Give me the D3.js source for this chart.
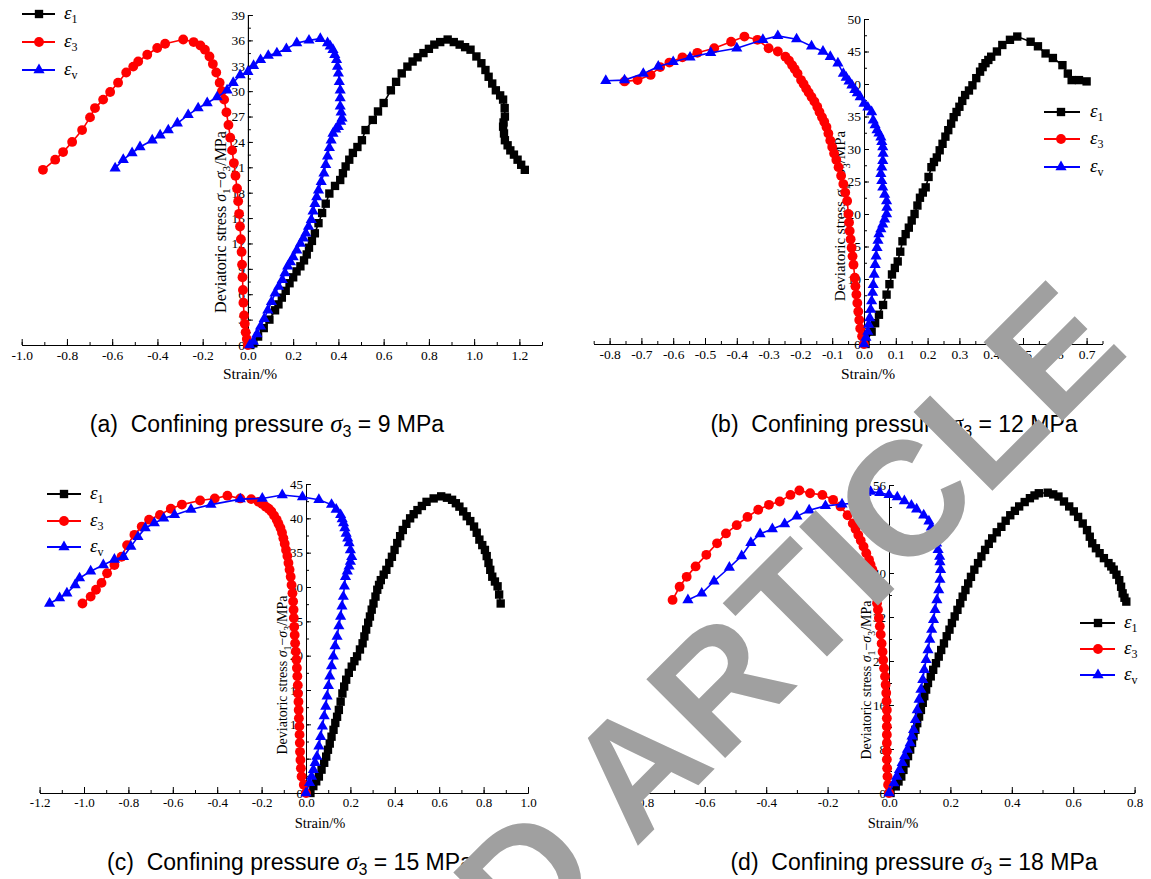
<!DOCTYPE html>
<html>
<head>
<meta charset="utf-8">
<script src="https://cdn.jsdelivr.net/npm/d3@7"></script>
<style>
  body { margin: 0; background: #fff; }
  svg { display: block; }
</style>
</head>
<body>
<script>
var W = 1151, H = 879;

// [strain %, deviatoric stress MPa]
// (a) confining pressure 9 MPa
var a_e1 = [[0.01,0],[0.024,0.2],[0.045,1.0],[0.07,2.0],[0.095,3.0],[0.12,4.1],[0.135,4.8],[0.15,5.6],[0.167,6.4],[0.184,7.3],[0.2,8.0],[0.215,8.7],[0.232,9.3],[0.248,10.0],[0.26,10.7],[0.27,11.5],[0.283,12.3],[0.296,13.2],[0.312,14.4],[0.328,15.6],[0.344,16.7],[0.36,17.9],[0.385,18.8],[0.408,19.5],[0.42,20.3],[0.432,21.1],[0.448,21.9],[0.464,22.7],[0.484,23.4],[0.504,24.2],[0.52,25.4],[0.552,26.6],[0.575,27.6],[0.6,28.6],[0.632,30.1],[0.655,31.1],[0.68,32.1],[0.705,32.9],[0.728,33.5],[0.75,34.0],[0.776,34.5],[0.8,35.0],[0.824,35.5],[0.85,35.8],[0.883,36.1],[0.91,35.8],[0.936,35.5],[0.96,35.2],[0.984,34.9],[1.01,34.1],[1.032,33.3],[1.05,32.5],[1.064,31.7],[1.08,30.9],[1.096,30.1],[1.115,29.5],[1.128,29.0],[1.135,28.0],[1.136,27.0],[1.13,26.3],[1.128,25.8],[1.132,25.0],[1.136,24.2],[1.148,23.6],[1.16,23.0],[1.176,22.5],[1.192,21.9],[1.208,21.3],[1.224,20.7]];
var a_e3 = [[0,0],[-0.005,0.7],[-0.01,1.5],[-0.014,2.5],[-0.017,3.5],[-0.02,5],[-0.022,6.5],[-0.024,8],[-0.026,9.5],[-0.028,11],[-0.031,12.5],[-0.035,14],[-0.039,15.5],[-0.043,17],[-0.048,18.5],[-0.055,20],[-0.062,21.5],[-0.07,23],[-0.078,24.5],[-0.086,26],[-0.095,27.5],[-0.105,29],[-0.115,30],[-0.125,31],[-0.14,32.2],[-0.155,33.2],[-0.17,34.1],[-0.19,34.9],[-0.21,35.4],[-0.24,35.8],[-0.286,36.1],[-0.366,35.6],[-0.401,35.1],[-0.445,34.3],[-0.485,33.5],[-0.507,32.9],[-0.538,32.2],[-0.574,31.0],[-0.609,29.9],[-0.64,29.0],[-0.676,28.0],[-0.698,26.9],[-0.733,25.4],[-0.777,24.0],[-0.817,22.8],[-0.852,21.9],[-0.906,20.7]];
var a_ev = [[0.008,0],[0.024,0.4],[0.04,1.3],[0.056,2.2],[0.072,3.1],[0.088,4.1],[0.104,5.1],[0.12,6.1],[0.136,6.9],[0.152,7.7],[0.164,8.5],[0.176,9.3],[0.188,9.8],[0.2,10.4],[0.216,11.2],[0.232,12.0],[0.245,12.6],[0.256,13.2],[0.268,14.0],[0.28,14.8],[0.288,15.8],[0.296,16.7],[0.304,17.5],[0.312,18.3],[0.324,19.3],[0.336,20.3],[0.344,21.3],[0.352,22.3],[0.36,23.3],[0.368,24.2],[0.376,25.0],[0.388,25.5],[0.4,25.8],[0.41,26.4],[0.416,26.8],[0.412,27.5],[0.408,28.2],[0.408,29.2],[0.408,30.1],[0.404,31.1],[0.4,32.1],[0.396,32.9],[0.392,33.7],[0.384,34.3],[0.376,34.9],[0.364,35.3],[0.352,35.7],[0.32,36.2],[0.27,36.0],[0.216,35.7],[0.17,35.0],[0.128,34.5],[0.09,34.2],[0.056,33.7],[0.025,33.0],[0,32.3],[-0.034,31.9],[-0.065,31.0],[-0.092,30.1],[-0.136,29.3],[-0.18,28.6],[-0.22,28.0],[-0.264,27.2],[-0.312,26.2],[-0.352,25.4],[-0.388,24.8],[-0.423,24.2],[-0.477,23.4],[-0.512,22.7],[-0.551,21.9],[-0.587,20.9]];

// (b) confining pressure 12 MPa
var b_e1 = [[0.005,0],[0.024,1.9],[0.035,3.2],[0.047,4.5],[0.06,6.0],[0.071,7.6],[0.08,9.2],[0.088,10.7],[0.097,11.7],[0.106,12.7],[0.114,14.2],[0.121,15.8],[0.131,16.9],[0.141,17.9],[0.15,19.0],[0.159,20.0],[0.168,21.3],[0.176,22.5],[0.185,23.3],[0.194,24.1],[0.203,25.7],[0.212,27.2],[0.22,28.0],[0.229,28.7],[0.238,29.8],[0.247,30.8],[0.256,31.9],[0.265,32.9],[0.274,33.9],[0.282,34.9],[0.291,35.7],[0.3,36.5],[0.309,37.4],[0.318,38.3],[0.33,39.0],[0.341,39.8],[0.353,40.9],[0.365,41.9],[0.373,42.6],[0.382,43.2],[0.391,43.7],[0.4,44.2],[0.418,45.0],[0.435,46.0],[0.459,46.8],[0.482,47.3],[0.524,46.5],[0.547,45.8],[0.571,44.7],[0.594,44.0],[0.624,42.9],[0.641,41.6],[0.653,40.6],[0.676,40.6],[0.7,40.4]];
var b_e3 = [[0,0],[-0.006,1.2],[-0.012,2.4],[-0.015,3.7],[-0.018,5.0],[-0.021,6.3],[-0.024,7.6],[-0.027,8.9],[-0.029,10.2],[-0.033,12.2],[-0.036,13.5],[-0.039,14.8],[-0.042,16.1],[-0.045,17.4],[-0.047,18.7],[-0.049,20.0],[-0.053,22.0],[-0.059,23.3],[-0.065,24.6],[-0.072,25.9],[-0.08,27.2],[-0.087,28.3],[-0.094,29.3],[-0.1,30.3],[-0.106,31.3],[-0.112,32.4],[-0.118,33.4],[-0.125,34.2],[-0.132,34.9],[-0.14,35.7],[-0.147,36.5],[-0.156,37.3],[-0.165,38.0],[-0.174,38.7],[-0.182,39.3],[-0.19,40.0],[-0.198,40.6],[-0.209,41.6],[-0.218,42.3],[-0.226,42.9],[-0.236,43.6],[-0.247,44.2],[-0.271,45.0],[-0.3,45.5],[-0.335,46.8],[-0.376,47.3],[-0.418,46.5],[-0.471,45.5],[-0.524,44.8],[-0.571,44.1],[-0.612,43.3],[-0.641,42.6],[-0.671,41.4],[-0.712,40.6],[-0.753,40.4]];
var b_ev = [[0,0],[0.006,1.0],[0.012,1.9],[0.015,3.0],[0.018,4.0],[0.021,5.3],[0.024,6.6],[0.027,7.9],[0.029,9.1],[0.032,10.7],[0.035,12.2],[0.038,13.5],[0.041,14.8],[0.044,15.9],[0.047,16.9],[0.053,17.7],[0.059,18.4],[0.065,19.2],[0.071,20.0],[0.072,21.0],[0.071,22.0],[0.065,23.0],[0.059,24.1],[0.056,25.1],[0.053,26.2],[0.056,27.2],[0.059,28.2],[0.06,29.3],[0.059,30.3],[0.056,31.1],[0.053,31.8],[0.047,32.4],[0.041,32.9],[0.035,33.7],[0.029,34.4],[0.024,35.7],[0.012,36.4],[0,37.0],[-0.012,38.0],[-0.021,38.6],[-0.029,39.1],[-0.038,39.8],[-0.047,40.4],[-0.056,41.0],[-0.065,41.6],[-0.082,43.2],[-0.106,44.2],[-0.129,45.0],[-0.165,45.8],[-0.212,46.9],[-0.271,47.4],[-0.318,46.8],[-0.4,45.5],[-0.482,44.8],[-0.547,44.1],[-0.6,43.4],[-0.647,42.7],[-0.694,41.6],[-0.753,40.6],[-0.812,40.5]];

// (c) confining pressure 15 MPa
var c_e1 = [[0.02,0],[0.033,1.0],[0.046,1.7],[0.058,2.4],[0.07,3.4],[0.082,4.4],[0.091,5.3],[0.099,6.3],[0.107,7.2],[0.115,8.2],[0.124,9.2],[0.132,10.2],[0.14,11.1],[0.148,12.1],[0.156,13.3],[0.164,14.5],[0.172,15.5],[0.181,16.5],[0.193,17.5],[0.206,18.4],[0.218,19.2],[0.23,19.9],[0.243,20.9],[0.255,21.8],[0.263,22.8],[0.271,23.8],[0.28,24.8],[0.288,25.7],[0.296,26.7],[0.304,27.6],[0.313,28.6],[0.321,29.6],[0.329,30.3],[0.337,31.0],[0.35,31.8],[0.362,32.5],[0.375,33.5],[0.387,34.4],[0.399,35.4],[0.411,36.4],[0.424,37.4],[0.436,38.3],[0.452,39.2],[0.469,40.0],[0.485,40.6],[0.502,41.2],[0.522,41.8],[0.543,42.4],[0.575,42.9],[0.609,43.2],[0.635,43.0],[0.658,42.7],[0.675,42.2],[0.691,41.7],[0.708,41.0],[0.724,40.3],[0.74,39.6],[0.757,38.8],[0.769,37.9],[0.781,36.9],[0.794,36.1],[0.806,35.4],[0.814,34.5],[0.822,33.5],[0.83,32.5],[0.839,31.5],[0.851,30.8],[0.863,30.1],[0.87,28.9],[0.877,27.6]];
var c_e3 = [[0,0],[-0.01,1.2],[-0.02,2.4],[-0.023,3.6],[-0.025,4.8],[-0.027,6.0],[-0.028,7.3],[-0.029,8.5],[-0.03,9.7],[-0.032,10.9],[-0.033,12.1],[-0.034,13.3],[-0.036,14.5],[-0.037,15.7],[-0.039,17.0],[-0.041,18.2],[-0.043,19.4],[-0.046,20.6],[-0.049,21.8],[-0.051,23.0],[-0.053,24.2],[-0.055,25.5],[-0.056,26.7],[-0.058,27.9],[-0.061,29.1],[-0.065,30.3],[-0.069,31.5],[-0.074,32.5],[-0.079,33.5],[-0.084,34.5],[-0.09,35.4],[-0.096,36.3],[-0.102,37.1],[-0.108,37.9],[-0.115,38.6],[-0.124,39.2],[-0.132,39.8],[-0.144,40.4],[-0.156,41.0],[-0.168,41.4],[-0.181,41.7],[-0.197,42.1],[-0.214,42.4],[-0.247,42.8],[-0.296,42.9],[-0.354,43.3],[-0.411,42.9],[-0.477,42.6],[-0.559,42.0],[-0.609,41.4],[-0.658,40.5],[-0.707,39.8],[-0.74,38.8],[-0.773,37.6],[-0.806,36.1],[-0.831,34.4],[-0.863,33.2],[-0.896,32.0],[-0.921,30.6],[-0.946,29.6],[-0.97,28.6],[-1.007,27.6]];
var c_ev = [[0,0],[0.016,1.5],[0.025,2.4],[0.033,3.4],[0.041,4.4],[0.049,5.3],[0.058,6.8],[0.066,8.2],[0.074,9.7],[0.082,11.2],[0.089,12.6],[0.095,14.1],[0.101,15.6],[0.107,17.0],[0.115,18.5],[0.123,19.9],[0.131,21.4],[0.14,22.8],[0.148,24.3],[0.156,25.7],[0.162,27.2],[0.168,28.6],[0.173,30.1],[0.178,31.5],[0.186,32.3],[0.194,33.0],[0.2,33.7],[0.206,34.4],[0.2,35.4],[0.194,36.4],[0.188,37.1],[0.181,37.8],[0.175,38.6],[0.169,39.3],[0.163,39.9],[0.156,40.5],[0.136,41.3],[0.115,42.0],[0.058,42.7],[-0.016,43.1],[-0.107,43.4],[-0.197,42.9],[-0.296,42.8],[-0.428,42.0],[-0.518,41.3],[-0.592,40.5],[-0.641,40.0],[-0.683,39.3],[-0.724,38.6],[-0.757,37.3],[-0.789,35.9],[-0.822,34.4],[-0.863,34.0],[-0.913,33.2],[-0.97,32.3],[-1.02,31.3],[-1.04,30.3],[-1.077,29.1],[-1.11,28.4],[-1.155,27.6]];

// (d) confining pressure 18 MPa
var d_e1 = [[0.005,0],[0.022,1.2],[0.031,2.1],[0.04,3.0],[0.047,4.2],[0.054,5.4],[0.062,6.7],[0.069,7.9],[0.075,9.1],[0.08,10.3],[0.086,11.5],[0.092,12.7],[0.098,13.9],[0.104,15.1],[0.11,16.4],[0.115,17.6],[0.121,18.8],[0.127,20.0],[0.136,21.2],[0.144,22.4],[0.153,23.6],[0.162,24.8],[0.17,26.0],[0.179,27.2],[0.188,28.5],[0.197,29.7],[0.205,30.9],[0.214,32.1],[0.223,33.3],[0.232,34.5],[0.24,35.7],[0.249,36.9],[0.258,38.1],[0.267,39.3],[0.278,40.6],[0.29,41.8],[0.301,43.0],[0.313,44.2],[0.325,45.3],[0.336,46.3],[0.351,47.4],[0.366,48.4],[0.38,49.5],[0.395,50.5],[0.41,51.3],[0.424,52.1],[0.442,52.9],[0.459,53.6],[0.474,54.1],[0.488,54.5],[0.517,54.6],[0.535,54.3],[0.552,53.9],[0.57,53.0],[0.587,52.1],[0.602,51.2],[0.616,50.2],[0.631,49.0],[0.645,47.8],[0.654,46.6],[0.662,45.4],[0.674,44.5],[0.686,43.6],[0.7,42.7],[0.715,41.8],[0.724,41.2],[0.732,40.6],[0.741,39.7],[0.75,38.7],[0.756,37.5],[0.761,36.3],[0.767,35.5],[0.773,34.8]];
var d_e3 = [[0,0],[-0.003,1.5],[-0.005,3.0],[-0.006,4.5],[-0.007,6.1],[-0.007,7.6],[-0.007,9.1],[-0.007,10.6],[-0.007,12.1],[-0.007,13.6],[-0.007,15.1],[-0.008,16.7],[-0.009,18.2],[-0.011,19.7],[-0.013,21.2],[-0.016,22.7],[-0.019,24.2],[-0.021,25.7],[-0.024,27.2],[-0.027,28.8],[-0.03,30.3],[-0.033,31.8],[-0.036,33.3],[-0.039,34.5],[-0.042,35.7],[-0.045,36.9],[-0.048,38.1],[-0.051,39.4],[-0.054,40.6],[-0.06,41.5],[-0.065,42.4],[-0.074,43.6],[-0.083,44.8],[-0.092,45.9],[-0.1,46.9],[-0.109,48.0],[-0.118,49.0],[-0.135,50.5],[-0.158,52.1],[-0.182,53.3],[-0.217,54.2],[-0.257,54.5],[-0.292,55.0],[-0.321,54.2],[-0.356,53.0],[-0.391,52.4],[-0.426,51.5],[-0.461,50.2],[-0.496,48.7],[-0.531,47.2],[-0.56,45.4],[-0.595,43.3],[-0.63,41.2],[-0.659,39.3],[-0.682,37.5],[-0.705,35.1]];
var d_ev = [[0,0],[0.016,1.8],[0.025,3.0],[0.034,4.2],[0.043,5.5],[0.051,6.7],[0.06,7.9],[0.069,9.1],[0.075,10.3],[0.08,11.5],[0.086,13.3],[0.092,15.1],[0.098,17.0],[0.104,18.8],[0.11,20.6],[0.115,22.4],[0.121,24.2],[0.127,26.0],[0.133,27.9],[0.139,29.7],[0.145,31.5],[0.15,33.3],[0.156,35.1],[0.162,36.9],[0.166,38.8],[0.168,40.6],[0.166,42.0],[0.165,43],[0.16,44.2],[0.155,45.4],[0.15,46.3],[0.145,47.2],[0.138,48.3],[0.13,49.4],[0.113,50.5],[0.09,51.6],[0.073,52.3],[0.05,53.1],[0.027,53.8],[0,54.2],[-0.03,54.6],[-0.06,54.8],[-0.075,54.6],[-0.09,53],[-0.113,52.7],[-0.153,52.5],[-0.207,52.2],[-0.26,51.4],[-0.3,50.3],[-0.34,48.9],[-0.38,48.0],[-0.42,47.1],[-0.45,45.5],[-0.48,43.1],[-0.52,41.0],[-0.57,38.5],[-0.61,36.3],[-0.655,35.1]];

// tick labels
var a_xticks = [-1.0,-0.8,-0.6,-0.4,-0.2,0,0.2,0.4,0.6,0.8,1.0,1.2];
var a_yticks = [0,3,6,9,12,15,18,21,24,27,30,33,36,39];
var b_xticks = [-0.8,-0.7,-0.6,-0.5,-0.4,-0.3,-0.2,-0.1,0,0.1,0.2,0.3,0.4,0.5,0.6,0.7];
var b_yticks = [0,5,10,15,20,25,30,35,40,45,50];
var c_xticks = [-1.2,-1.0,-0.8,-0.6,-0.4,-0.2,0,0.2,0.4,0.6,0.8,1.0];
var c_yticks = [0,5,10,15,20,25,30,35,40,45];
var d_xticks = [-0.8,-0.6,-0.4,-0.2,0,0.2,0.4,0.6,0.8];
var d_yticks = [0,8,16,24,32,40,48,56];

var seriesSubs = ["1", "3", "v"];
var panelLetters = ["(a)", "(b)", "(c)", "(d)"];
var pressures = ["9", "12", "15", "18"];

var colors = ["#000000", "#ff0000", "#0000ff"];
var shapes = [d3.symbolSquare, d3.symbolCircle, d3.symbolTriangle];
var symSizes = [70, 76, 54];

var panels = [
  {series: [a_e1, a_e3, a_ev], xdom: [-1.0, 1.3], xr: [21.7, 542], ydom: [0, 39], yr: [345, 15],
   xt: a_xticks, xstep: 0.1, yt: a_yticks, ystep: 1.5, tickFs: 13.5,
   ytitle: [220, 222, 16], xtitle: [250, 379, 15.5],
   legend: {x1: 22, x2: 55, xm: 39, xt: 64, ys: [14, 42, 70]},
   caption: [267, 432]},
  {series: [b_e1, b_e3, b_ev], xdom: [-0.85, 0.75], xr: [593.7, 1102.5], ydom: [0, 50], yr: [344, 19],
   xt: b_xticks, xstep: 0.05, yt: b_yticks, ystep: 2.5, tickFs: 13.5,
   ytitle: [840, 216, 15], xtitle: [868, 379, 15.5],
   legend: {x1: 1044, x2: 1080, xm: 1061, xt: 1090, ys: [112, 139, 167]},
   caption: [894, 432]},
  {series: [c_e1, c_e3, c_ev], xdom: [-1.2, 1.0], xr: [39.6, 528], ydom: [0, 45], yr: [793, 484],
   xt: c_xticks, xstep: 0.1, yt: c_yticks, ystep: 2.5, tickFs: 13,
   ytitle: [282, 675, 14], xtitle: [320, 828, 14.5],
   legend: {x1: 47, x2: 81, xm: 64, xt: 90, ys: [494, 521, 547]},
   caption: [290, 870]},
  {series: [d_e1, d_e3, d_ev], xdom: [-0.8, 0.8], xr: [643.4, 1134.6], ydom: [0, 56], yr: [793, 485],
   xt: d_xticks, xstep: 0.1, yt: d_yticks, ystep: 4, tickFs: 13,
   ytitle: [866, 680, 14], xtitle: [893, 828, 14.5],
   legend: {x1: 1080, x2: 1115, xm: 1098, xt: 1124, ys: [623, 649, 675]},
   caption: [914, 870]}
];

var svg = d3.select("body").append("svg")
  .attr("width", W)
  .attr("height", H)
  .style("background", "#fff");

var serif = "Liberation Serif";
var sans = "Liberation Sans";

function styleAxis(g, fs) {
  g.attr("font-family", serif).attr("font-size", fs);
  g.selectAll("path, line").attr("stroke", "#000").attr("stroke-width", 1);
  g.selectAll("text").attr("fill", "#000");
}

function drawPanel(p, pi) {
  var x = d3.scaleLinear().domain(p.xdom).range(p.xr);
  var y = d3.scaleLinear().domain(p.ydom).range(p.yr);
  var g = svg.append("g");
  var x0 = x(0), y0 = y(0);

  var xminor = d3.range(p.xdom[0], p.xdom[1] + 1e-9, p.xstep);
  var yminor = d3.range(p.ydom[0], p.ydom[1] + 1e-9, p.ystep);

  // x axis, ticks pointing up into the plot
  g.append("g").attr("transform", "translate(0," + y0 + ")")
    .call(d3.axisBottom(x).tickValues(xminor).tickSize(-3).tickSizeOuter(0).tickFormat(""))
    .call(styleAxis, p.tickFs);
  g.append("g").attr("transform", "translate(0," + y0 + ")")
    .call(d3.axisBottom(x).tickValues(p.xt).tickSize(-6).tickSizeOuter(0).tickPadding(5)
      .tickFormat(function(d) { return d.toFixed(1); }))
    .call(styleAxis, p.tickFs);

  // y axis sits at strain = 0
  g.append("g").attr("transform", "translate(" + x0 + ",0)")
    .call(d3.axisLeft(y).tickValues(yminor).tickSize(-3).tickSizeOuter(0).tickFormat(""))
    .call(styleAxis, p.tickFs);
  g.append("g").attr("transform", "translate(" + x0 + ",0)")
    .call(d3.axisLeft(y).tickValues(p.yt).tickSize(-5).tickSizeOuter(0).tickPadding(3))
    .call(styleAxis, p.tickFs);

  g.append("text")
    .attr("x", p.xtitle[0]).attr("y", p.xtitle[1])
    .attr("text-anchor", "middle")
    .attr("font-family", serif).attr("font-size", p.xtitle[2])
    .text("Strain/%");

  var fs = p.ytitle[2];
  var yt = g.append("text")
    .attr("transform", "translate(" + p.ytitle[0] + "," + p.ytitle[1] + ") rotate(-90)")
    .attr("text-anchor", "middle")
    .attr("dy", "0.35em")
    .attr("font-family", serif).attr("font-size", fs);
  yt.append("tspan").text("Deviatoric stress ");
  yt.append("tspan").attr("font-style", "italic").text("σ");
  yt.append("tspan").attr("font-size", fs * 0.7).attr("dy", fs * 0.3).text("1");
  yt.append("tspan").attr("dy", -fs * 0.3).text("−");
  yt.append("tspan").attr("font-style", "italic").text("σ");
  yt.append("tspan").attr("font-size", fs * 0.7).attr("dy", fs * 0.3).text("3");
  yt.append("tspan").attr("dy", -fs * 0.3).text("/MPa");

  // curves: line + markers, ε1 first, εv on top
  var line = d3.line().x(function(d) { return x(d[0]); }).y(function(d) { return y(d[1]); });
  p.series.forEach(function(s, k) {
    g.append("path")
      .attr("d", line(s))
      .attr("fill", "none")
      .attr("stroke", colors[k])
      .attr("stroke-width", 1.6);
    g.append("g").selectAll("path")
      .data(s).enter().append("path")
      .attr("transform", function(d) { return "translate(" + x(d[0]) + "," + y(d[1]) + ")"; })
      .attr("d", d3.symbol().type(shapes[k]).size(symSizes[k]))
      .attr("fill", colors[k]);
  });

  var L = p.legend;
  L.ys.forEach(function(ly, k) {
    g.append("line")
      .attr("x1", L.x1).attr("x2", L.x2).attr("y1", ly).attr("y2", ly)
      .attr("stroke", colors[k]).attr("stroke-width", 1.8);
    g.append("path")
      .attr("transform", "translate(" + L.xm + "," + ly + ")")
      .attr("d", d3.symbol().type(shapes[k]).size(symSizes[k]))
      .attr("fill", colors[k]);
    var t = g.append("text")
      .attr("x", L.xt).attr("y", ly + 5)
      .attr("font-family", serif).attr("font-size", 19);
    t.append("tspan").attr("font-style", "italic").text("ε");
    t.append("tspan").attr("font-size", 12).attr("dy", 4).text(seriesSubs[k]);
  });

  var c = svg.append("text")
    .attr("x", p.caption[0]).attr("y", p.caption[1])
    .attr("text-anchor", "middle")
    .attr("font-family", sans).attr("font-size", 23).attr("fill", "#000");
  c.append("tspan").text(panelLetters[pi] + "\u00a0 Confining pressure ");
  c.append("tspan").attr("font-style", "italic").attr("font-family", serif).attr("font-size", 25).text("σ");
  c.append("tspan").attr("font-size", 16).attr("dy", 5).text("3");
  c.append("tspan").attr("dy", -5).text(" = " + pressures[pi] + " MPa");
}

panels.forEach(drawPanel);

// grey stamp lying over the whole figure
svg.append("text")
  .attr("transform", "translate(1090,311) rotate(-45)")
  .attr("text-anchor", "end")
  .attr("dy", "0.36em")
  .attr("font-family", sans)
  .attr("font-weight", "bold")
  .attr("font-size", 162)
  .attr("fill", "#a0a0a0")
  .text("RETRACTED ARTICLE");
</script>
</body>
</html>
